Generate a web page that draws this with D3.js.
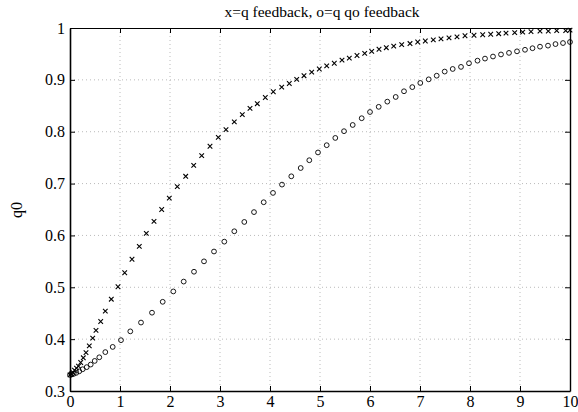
<!DOCTYPE html>
<html><head><meta charset="utf-8">
<script src="https://cdn.jsdelivr.net/npm/d3@7"></script>
<style>
html,body{margin:0;padding:0;background:#fff;}
text{font-family:"Liberation Serif","Times New Roman",serif;fill:#000;}
</style></head>
<body>
<svg id="c" width="578" height="412"></svg>
<script>
// ---- data ----
const titleText = "x=q feedback, o=q qo feedback";
const yLabelText = "q0";
const xTicks = [0,1,2,3,4,5,6,7,8,9,10];
const yTicks = [0.3,0.4,0.5,0.6,0.7,0.8,0.9,1];
const yTickLabels = ["0.3","0.4","0.5","0.6","0.7","0.8","0.9","1"];

// series "x" : q feedback
const xSeriesT = [0,0.03,0.056,0.09,0.13,0.17,0.214,0.266,0.32,0.386,0.454,0.52,0.614,0.706,0.826,0.96,
  1.094,1.24,1.386,1.526,1.68,1.834,1.986,2.146,2.314,2.474,2.634,2.8,2.966,3.12,3.286,3.446,3.6,3.746,3.906,4.066,
  4.234,4.386,4.534,4.68,4.834,4.986,5.134,5.286,5.44,5.586,5.74,5.894,6.034,6.18,6.326,6.474,6.634,6.8,6.954,7.106,
  7.266,7.42,7.58,7.74,7.9,8.08,8.254,8.414,8.574,8.72,8.894,9.054,9.22,9.4,9.566,9.734,9.914,10];
const xSeriesV = [0.331,0.333,0.336,0.340,0.344,0.348,0.355,0.364,0.374,0.387,0.402,0.417,0.434,0.454,0.477,0.501,
  0.528,0.554,0.579,0.604,0.627,0.650,0.672,0.694,0.714,0.735,0.754,0.772,0.789,0.804,0.819,0.833,0.845,0.854,0.866,0.877,
  0.886,0.893,0.901,0.908,0.915,0.921,0.927,0.932,0.938,0.942,0.947,0.951,0.955,0.959,0.962,0.965,0.968,0.970,0.973,0.975,
  0.977,0.979,0.981,0.983,0.985,0.986,0.987,0.988,0.989,0.990,0.991,0.992,0.993,0.994,0.994,0.995,0.995,0.996];

// series "o" : q qo feedback
const oSeriesT = [0,0.034,0.074,0.126,0.186,0.254,0.334,0.414,0.494,0.586,0.706,0.854,1.02,1.206,1.42,1.64,1.854,2.066,2.274,2.48,
  2.68,2.88,3.086,3.286,3.486,3.68,3.874,4.06,4.24,4.426,4.614,4.786,4.96,5.134,5.306,5.48,5.654,5.834,6.0,6.174,
  6.346,6.514,6.68,6.846,7.006,7.174,7.334,7.494,7.654,7.82,7.98,8.15,8.3,8.46,8.62,8.78,8.94,9.1,9.25,9.4,9.56,9.71,9.86,10];
const oSeriesV = [0.331,0.332,0.333,0.335,0.338,0.342,0.346,0.351,0.358,0.365,0.375,0.385,0.398,0.415,0.432,0.451,0.472,0.492,0.511,0.530,
  0.550,0.569,0.588,0.608,0.626,0.645,0.664,0.682,0.698,0.714,0.730,0.745,0.760,0.774,0.788,0.801,0.813,0.826,0.838,0.848,
  0.858,0.867,0.878,0.886,0.894,0.901,0.908,0.916,0.921,0.925,0.932,0.937,0.941,0.945,0.949,0.952,0.955,0.958,0.961,0.964,0.966,0.969,0.971,0.973];

// ---- layout ----
const L = 70, R = 570, T = 28, B = 391;
const svg = d3.select("#c");
svg.append("rect").attr("width",578).attr("height",412).attr("fill","#fff");

const x = d3.scaleLinear().domain([0,10]).range([L,R]);
const y = d3.scaleLinear().domain([0.3,1]).range([B,T]);

// grid
const grid = svg.append("g").attr("stroke","#aaa").attr("stroke-width",0.8).attr("stroke-dasharray","1,3");
grid.selectAll("line.gx").data(xTicks.slice(1,-1)).enter().append("line")
  .attr("x1",d=>x(d)).attr("x2",d=>x(d)).attr("y1",T).attr("y2",B);
grid.selectAll("line.gy").data(yTicks.slice(1,-1)).enter().append("line")
  .attr("y1",d=>y(d)).attr("y2",d=>y(d)).attr("x1",L).attr("x2",R);

// axes
const fmtY = d=>yTickLabels[yTicks.indexOf(d)];
const axB = d3.axisBottom(x).tickValues(xTicks).tickSizeInner(-5).tickSizeOuter(0).tickPadding(5).tickFormat(d3.format("d"));
const axT = d3.axisTop(x).tickValues(xTicks).tickSizeInner(-5).tickSizeOuter(0).tickFormat("");
const axL = d3.axisLeft(y).tickValues(yTicks).tickSizeInner(-5).tickSizeOuter(0).tickPadding(5).tickFormat(fmtY);
const axR = d3.axisRight(y).tickValues(yTicks).tickSizeInner(-5).tickSizeOuter(0).tickFormat("");

function style(w){
  return g=>{
    g.selectAll("path").attr("stroke","#000").attr("stroke-width",w);
    g.selectAll("line").attr("stroke","#000").attr("stroke-width",1);
    g.selectAll("text").attr("font-family","Liberation Serif, serif").attr("font-size",16).attr("fill","#000");
  };
}
svg.append("g").attr("transform",`translate(0,${B})`).call(axB).call(style(1.6));
svg.append("g").attr("transform",`translate(0,${T})`).call(axT).call(style(1));
svg.append("g").attr("transform",`translate(${L},0)`).call(axL).call(style(1.6));
svg.append("g").attr("transform",`translate(${R},0)`).call(axR).call(style(1.4));

// markers
const xData = xSeriesT.map((t,i)=>({t, v:xSeriesV[i]}));
const oData = oSeriesT.map((t,i)=>({t, v:oSeriesV[i]}));

svg.append("g").selectAll("circle").data(oData).enter().append("circle")
  .attr("cx",d=>x(d.t)).attr("cy",d=>y(d.v)).attr("r",2.4)
  .attr("fill","none").attr("stroke","#000").attr("stroke-width",0.9);

const s = 2.3;
svg.append("g").selectAll("path").data(xData).enter().append("path")
  .attr("d",d=>{const cx=x(d.t), cy=y(d.v);
    return `M${cx-s},${cy-s}L${cx+s},${cy+s}M${cx-s},${cy+s}L${cx+s},${cy-s}`;})
  .attr("fill","none").attr("stroke","#000").attr("stroke-width",1.1);

// title & label
svg.append("text").attr("x",322).attr("y",17).attr("text-anchor","middle")
  .attr("font-size",15.5).text(titleText);
svg.append("text").attr("transform","translate(22,210) rotate(-90)").attr("text-anchor","middle")
  .attr("font-size",16).text(yLabelText);
</script>
</body></html>
